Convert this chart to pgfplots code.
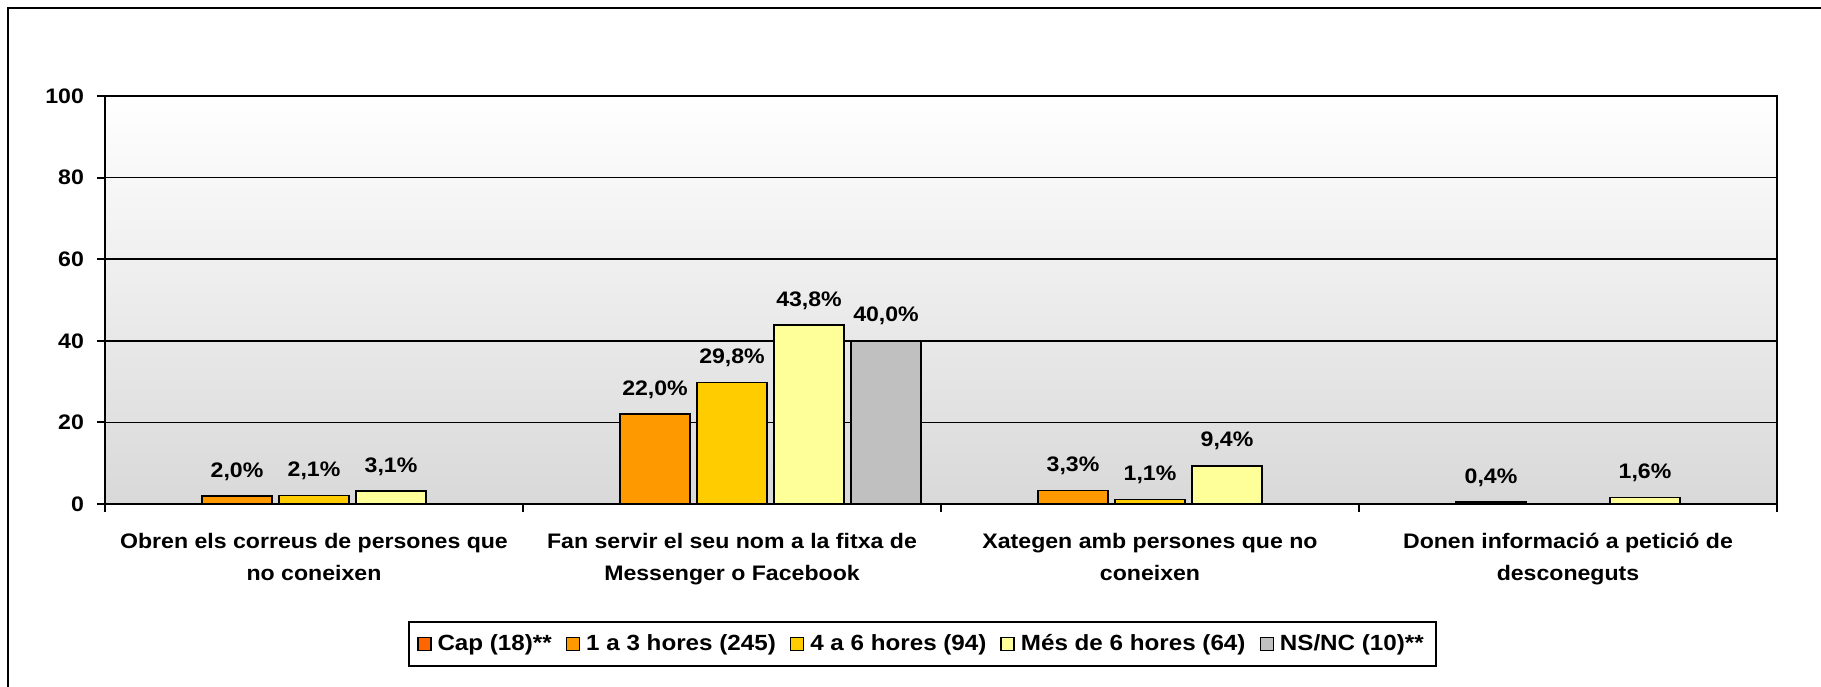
\documentclass[border=0pt]{standalone}
\usepackage{pgfplots}
\pgfplotsset{compat=1.18}
\usepackage{fontspec}
\setmainfont{Liberation Sans}[FakeStretch=1.1]
\definecolor{capc}{HTML}{FF6600}
\definecolor{c13}{HTML}{FF9900}
\definecolor{c46}{HTML}{FFCC00}
\definecolor{cmes}{HTML}{FFFF99}
\definecolor{cns}{HTML}{C0C0C0}
\pgfplotsset{myleg/.style={legend image code/.code={\draw[##1,draw=black,line width=0.7pt] (0pt,-3.25pt) rectangle (6.5pt,3.25pt);}}}
\begin{document}
\begin{tikzpicture}[x=0.5pt,y=0.5pt]
\path[use as bounding box] (0,0) rectangle (1821,686);
\clip (0,0) rectangle (1821,686);
\draw[line width=1pt] (8,-20) -- (8,678) -- (1840,678);
\begin{axis}[
  at={(52.5pt,91pt)}, anchor=south west,
  scale only axis, width=836pt, height=204pt,
  xmin=0, xmax=4, ymin=0, ymax=100,
  ytick={0,20,40,60,80,100},
  xtick={0,1,2,3,4}, xticklabels={},
  extra x ticks={0.5,1.5,2.5,3.5},
  extra x tick labels={{Obren els correus de persones que\\no coneixen},{Fan servir el seu nom a la fitxa de\\Messenger o Facebook},{Xategen amb persones que no\\coneixen},{Donen informació a petició de\\desconeguts}},
  extra x tick style={major tick length=0pt, grid=none},
  xticklabel style={align=center, font=\fontsize{10.5}{16}\selectfont\bfseries, yshift=-11pt},
  yticklabel style={font=\fontsize{10.5}{12}\selectfont\bfseries, xshift=-3pt},
  /pgf/number format/assume math mode=true,
  tick align=outside, major tick length=4pt,
  tick pos=left,
  ymajorgrids, grid style={black, line width=0.8pt},
  axis line style={line width=1.1pt},
  tick style={black, line width=1pt},
  axis background/.style={top color=white, bottom color=black!15},
  ybar, bar width=35pt,
  every axis plot/.append style={myleg, draw=black, line width=0.9pt},
  nodes near coords={\pgfmathprintnumber[fixed,fixed zerofill,precision=1,use comma]{\pgfplotspointmeta}\%},
  every node near coord/.append style={font=\fontsize{10.5}{12}\selectfont\bfseries, text=black, yshift=4pt},
  legend columns=-1,
  legend style={at={(0.4889,-0.343)}, anchor=center, draw=black, line width=1pt,
    font=\fontsize{11}{13}\selectfont\bfseries, inner ysep=4pt, inner xsep=4pt,
    /tikz/every odd column/.append style={column sep=1pt},
    /tikz/every even column/.append style={column sep=5pt}},
]
\addlegendimage{myleg, fill=capc, draw=black}
\addlegendentry{Cap (18)**}
\addplot[fill=c13, bar shift=-38.5pt] coordinates {(0.5,2.0) (1.5,22.0) (2.5,3.3) (3.5,0.4)};
\addlegendentry{1 a 3 hores (245)}
\addplot[fill=c46, bar shift=0pt] coordinates {(0.5,2.1) (1.5,29.8) (2.5,1.1)};
\addlegendentry{4 a 6 hores (94)}
\addplot[fill=cmes, bar shift=38.5pt] coordinates {(0.5,3.1) (1.5,43.8) (2.5,9.4) (3.5,1.6)};
\addlegendentry{Més de 6 hores (64)}
\addplot[fill=cns, bar shift=77pt] coordinates {(1.5,40.0)};
\addlegendentry{NS/NC (10)**}
\end{axis}
\end{tikzpicture}
\end{document}
